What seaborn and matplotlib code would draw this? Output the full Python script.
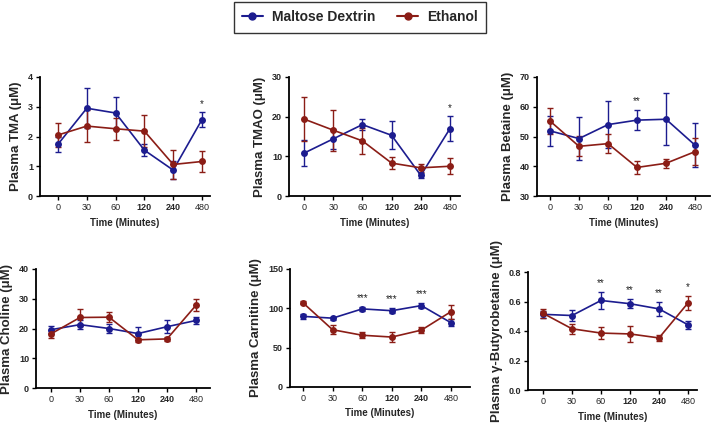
import numpy as np
import pandas as pd
import matplotlib
matplotlib.use("Agg")
import matplotlib.pyplot as plt
import seaborn as sns
from matplotlib.lines import Line2D

sns.set_theme(style="ticks")
plt.rcParams['font.family'] = ['Liberation Sans', 'DejaVu Sans']

times = ["0", "30", "60", "120", "240", "480"]
groups = ["Maltose Dextrin", "Ethanol"]
colors = {"Maltose Dextrin": "#1c1c8f", "Ethanol": "#8b1d16"}

# Panel data: mean / error for each group
tma_md = [1.74, 2.95, 2.79, 1.54, 0.87, 2.57]
tma_md_err = [0.26, 0.67, 0.55, 0.2, 0.3, 0.24]
tma_et = [2.05, 2.35, 2.26, 2.18, 1.06, 1.16]
tma_et_err = [0.4, 0.55, 0.37, 0.54, 0.48, 0.36]

tmao_md = [10.8, 14.4, 18.0, 15.3, 5.2, 17.0]
tmao_md_err = [3.2, 2.5, 1.4, 3.5, 0.7, 3.1]
tmao_et = [19.4, 16.6, 13.9, 8.3, 7.1, 7.5]
tmao_et_err = [5.6, 5.2, 3.3, 1.5, 1.0, 2.0]

bet_md = [51.9, 49.3, 54.0, 55.5, 55.8, 47.1]
bet_md_err = [5.0, 7.2, 7.8, 3.4, 8.8, 7.4]
bet_et = [55.2, 46.7, 47.6, 39.6, 41.0, 44.9]
bet_et_err = [4.3, 3.4, 3.1, 2.1, 1.5, 4.6]

cho_md = [19.6, 21.3, 20.0, 18.3, 20.6, 22.7]
cho_md_err = [1.1, 1.4, 1.4, 2.1, 2.2, 1.2]
cho_et = [18.2, 23.7, 23.8, 16.2, 16.5, 27.8]
cho_et_err = [1.4, 3.0, 1.7, 0.7, 0.6, 2.0]

car_md = [89.8, 87.5, 99.3, 97.0, 103.5, 81.7]
car_md_err = [3.5, 2.0, 3.0, 3.5, 3.5, 4.5]
car_et = [107.0, 72.8, 65.8, 63.5, 72.3, 95.8]
car_et_err = [2.0, 5.5, 3.5, 6.0, 4.0, 9.0]

gbb_md = [0.513, 0.505, 0.607, 0.585, 0.550, 0.442]
gbb_md_err = [0.025, 0.04, 0.058, 0.032, 0.05, 0.028]
gbb_et = [0.520, 0.415, 0.386, 0.380, 0.353, 0.590]
gbb_et_err = [0.03, 0.035, 0.04, 0.055, 0.02, 0.05]

panels = [
    dict(label="Plasma TMA (\u03bcM)", md=tma_md, mde=tma_md_err, et=tma_et, ete=tma_et_err,
         yt=[0, 1, 2, 3, 4], ytl=["0", "1", "2", "3", "4"], stars={5: "*"}),
    dict(label="Plasma TMAO (\u03bcM)", md=tmao_md, mde=tmao_md_err, et=tmao_et, ete=tmao_et_err,
         yt=[0, 10, 20, 30], ytl=["0", "10", "20", "30"], stars={5: "*"}),
    dict(label="Plasma Betaine (\u03bcM)", md=bet_md, mde=bet_md_err, et=bet_et, ete=bet_et_err,
         yt=[30, 40, 50, 60, 70], ytl=["30", "40", "50", "60", "70"], stars={3: "**"}),
    dict(label="Plasma Choline (\u03bcM)", md=cho_md, mde=cho_md_err, et=cho_et, ete=cho_et_err,
         yt=[0, 10, 20, 30, 40], ytl=["0", "10", "20", "30", "40"], stars={}),
    dict(label="Plasma Carnitine (\u03bcM)", md=car_md, mde=car_md_err, et=car_et, ete=car_et_err,
         yt=[0, 50, 100, 150], ytl=["0", "50", "100", "150"], stars={2: "***", 3: "***", 4: "***"}),
    dict(label="Plasma \u03b3-Butyrobetaine (\u03bcM)", md=gbb_md, mde=gbb_md_err, et=gbb_et, ete=gbb_et_err,
         yt=[0, 0.2, 0.4, 0.6, 0.8], ytl=["0.0", "0.2", "0.4", "0.6", "0.8"], stars={2: "**", 3: "**", 4: "**", 5: "*"}),
]

# layout in pixels: axis x, axis end, x of first tick, x of last tick, top, bottom
layout = [
    (40, 210, 58, 202, 77, 196),
    (289, 460, 304, 450, 77, 196),
    (537, 710, 550, 695, 77, 196),
    (36, 210, 51, 196, 269, 388),
    (290, 470, 303, 451, 269, 387),
    (528, 697, 543, 688, 272, 390),
]

W, H = 712, 424
fig = plt.figure(figsize=(W / 100, H / 100), dpi=100)

for p, (xa, xe, x0, x5, yt, yb) in zip(panels, layout):
    ax = fig.add_axes([xa / W, 1 - yb / H, (xe - xa) / W, (yb - yt) / H])
    df = pd.DataFrame({
        "pos": list(range(6)) * 2,
        "val": p["md"] + p["et"],
        "err": p["mde"] + p["ete"],
        "group": [groups[0]] * 6 + [groups[1]] * 6,
    })
    for g in groups:
        d = df[df.group == g]
        ax.errorbar(d["pos"], d["val"], yerr=d["err"], fmt="none", ecolor=colors[g],
                    elinewidth=1.0, capsize=2.5, capthick=1.0, zorder=2)
    sns.lineplot(data=df, x="pos", y="val", hue="group", palette=colors, marker="o",
                 markersize=5, markeredgewidth=0, linewidth=1.2, legend=False, ax=ax,
                 estimator=None, sort=False, zorder=3)
    s = (x5 - x0) / 5
    ax.set_xlim((xa - x0) / s, 5 + (xe - x5) / s)
    ax.set_ylim(p["yt"][0], p["yt"][-1])
    ax.set_yticks(p["yt"])
    ax.set_yticklabels(p["ytl"], fontsize=6.5, fontweight="bold")
    ax.set_xticks(range(6))
    ax.set_xticklabels(times, fontsize=6.5)
    for i, t in enumerate(ax.get_xticklabels()):
        if times[i] in ("120", "240"):
            t.set_fontweight("bold")
    ax.set_ylabel(p["label"], fontsize=9.5, fontweight="bold")
    ax.set_xlabel("Time (Minutes)", fontsize=7, fontweight="bold")
    sns.despine(ax=ax)
    for sp in ("left", "bottom"):
        ax.spines[sp].set_linewidth(1.3)
        ax.spines[sp].set_color("black")
    ax.tick_params(axis="both", length=3, width=1.0, color="black", pad=2)
    yr = p["yt"][-1] - p["yt"][0]
    for i, st in p["stars"].items():
        top = max(p["md"][i] + p["mde"][i], p["et"][i] + p["ete"][i])
        ax.text(i, top + 0.03 * yr, st, ha="center", va="bottom", fontsize=7, color="#222222")

handles = [Line2D([0], [0], color=colors[g], marker="o", markersize=5, linewidth=1.5) for g in groups]
leg = fig.legend(handles, groups, loc="upper center", bbox_to_anchor=(360 / W, 1 - 2 / H), ncol=2,
                 frameon=True, fancybox=False, edgecolor="black", prop={"weight": "bold", "size": 10},
                 handlelength=1.5, handletextpad=0.65, columnspacing=1.6, borderpad=0.6,
                 borderaxespad=0)
leg.get_frame().set_linewidth(1.0)

fig.savefig("out.png", dpi=100)
